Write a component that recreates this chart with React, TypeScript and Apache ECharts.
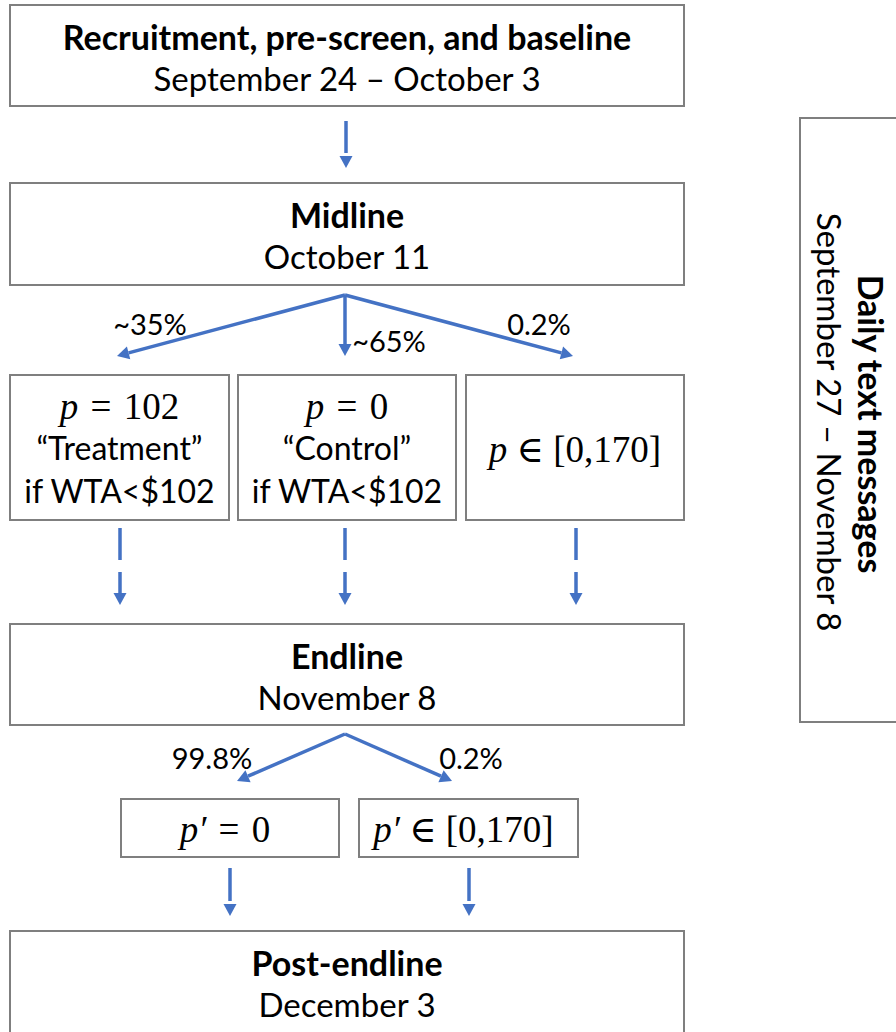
import React, { useEffect, useRef } from "react";
import * as echarts from "echarts";

// ---- content (texts) ----
const stageTitles = ["Recruitment, pre-screen, and baseline", "Midline", "Endline", "Post-endline"];
const stageDates = ["September 24 – October 3", "October 11", "November 8", "December 3"];
const armMath = ["{i|p}\u2004=\u2004102", "{i|p}\u2004=\u20040", "{i|p}\u2005∈\u2005[0,170]"];
const armNames = ["“Treatment”", "“Control”", ""];
const armConditions = ["if WTA<$102", "if WTA<$102", ""];
const midlineShares = ["~35%", "~65%", "0.2%"];
const endlineShares = ["99.8%", "0.2%"];
const postMath = ["{i|p′}\u2004=\u20040", "{i|p′}\u2005∈\u2005[0,170]"];
const sideTitle = "Daily text messages";
const sideDates = "September 27 – November 8";

// ---- layout ----
const W = 896, H = 1032;
const stageBoxes = [
  { x: 10, y: 5, w: 674, h: 101 },
  { x: 10, y: 183, w: 674, h: 102 },
  { x: 10, y: 624, w: 674, h: 101 },
  { x: 10, y: 931, w: 674, h: 120 },
];
const armBoxes = [
  { x: 10, y: 375, w: 219, h: 145 },
  { x: 238, y: 375, w: 218, h: 145 },
  { x: 466, y: 375, w: 218, h: 145 },
];
const postBoxes = [
  { x: 121, y: 799, w: 218, h: 58 },
  { x: 359, y: 799, w: 219, h: 58 },
];
const sideBox = { x: 800, y: 118, w: 120, h: 604 };

const BLUE = "#4472C4";
const GRAY = "#7F7F7F";
const SANS = "Lato, 'Open Sans', sans-serif";
const MATH = "'Liberation Serif', 'DejaVu Serif', serif";

function box(b: any) {
  return {
    type: "rect",
    shape: { x: b.x, y: b.y, width: b.w, height: b.h },
    style: { fill: "#fff", stroke: GRAY, lineWidth: 2 },
  };
}

function text(t: string, x: number, y: number, size: number, bold = false, extra: any = {}) {
  return {
    type: "text",
    x,
    y,
    style: {
      text: t,
      fontSize: size,
      fontFamily: SANS,
      fontWeight: bold ? "bold" : "normal",
      fill: "#000",
      align: "center",
      verticalAlign: "middle",
      textAlign: "center",
      textVerticalAlign: "middle",
      ...extra,
    },
  };
}

function mathText(t: string, x: number, y: number, size: number) {
  return {
    type: "text",
    x,
    y,
    style: {
      text: t,
      fontSize: size,
      fontFamily: MATH,
      fill: "#000",
      align: "center",
      verticalAlign: "middle",
      textAlign: "center",
      textVerticalAlign: "middle",
      rich: {
        i: { fontStyle: "italic", fontSize: size, fontFamily: MATH, fill: "#000" },
      },
    },
  };
}

function arrow(x1: number, y1: number, x2: number, y2: number, dash?: number[], gap = 0) {
  const dx = x2 - x1, dy = y2 - y1;
  const len = Math.sqrt(dx * dx + dy * dy);
  const ux = dx / len, uy = dy / len;
  const L = 12, hw = 6.5;
  const bx = x2 - ux * L, by = y2 - uy * L;
  const ex = x2 - ux * (L + gap), ey = y2 - uy * (L + gap);
  const px = -uy, py = ux;
  return [
    {
      type: "line",
      shape: { x1, y1, x2: ex, y2: ey },
      style: { stroke: BLUE, lineWidth: 3.5, lineDash: dash || null, lineCap: "butt" },
    },
    {
      type: "polygon",
      shape: { points: [[x2, y2], [bx + px * hw, by + py * hw], [bx - px * hw, by - py * hw]] },
      style: { fill: BLUE },
    },
  ];
}

export default function App() {
  const ref = useRef<HTMLDivElement>(null);
  useEffect(() => {
    if (!ref.current) return;
    const chart = echarts.init(ref.current, null, { renderer: "svg" });
    const els: any[] = [];

    // stage boxes
    stageBoxes.forEach((b, i) => {
      els.push(box(b));
      const cx = b.x + b.w / 2;
      els.push(text(stageTitles[i], cx, b.y + 31, 34, true));
      els.push(text(stageDates[i], cx, b.y + 73, 33));
    });

    // arm boxes
    armBoxes.forEach((b, i) => {
      els.push(box(b));
      const cx = b.x + b.w / 2;
      if (armNames[i]) {
        els.push(mathText(armMath[i], cx, b.y + 31, 37));
        els.push(text(armNames[i], cx, b.y + 72, 32));
        els.push(text(armConditions[i], cx, b.y + 115, 32));
      } else {
        els.push(mathText(armMath[i], cx, b.y + 74, 37));
      }
    });

    // post boxes
    postBoxes.forEach((b, i) => {
      els.push(box(b));
      els.push(mathText(postMath[i], b.x + b.w / 2 - 5, b.y + 30, 37));
    });

    // side box
    els.push(box(sideBox));
    els.push({ ...text(sideTitle, 871, 424, 34, true), rotation: -Math.PI / 2 });
    els.push({ ...text(sideDates, 830, 422, 33), rotation: -Math.PI / 2 });

    // arrows
    els.push(...arrow(346, 121, 346, 168, undefined, 3));
    const midTop = [345, 295];
    const midTips = [[117, 356], [345, 356], [573, 356]];
    midTips.forEach((t) => els.push(...arrow(midTop[0], midTop[1], t[0], t[1])));
    [120, 345, 576].forEach((x) => els.push(...arrow(x, 528, x, 605, [32, 12])));
    const endTop = [345, 734];
    const endTips = [[237, 781], [452, 781]];
    endTips.forEach((t) => els.push(...arrow(endTop[0], endTop[1], t[0], t[1])));
    [230, 469].forEach((x) => els.push(...arrow(x, 868, x, 916, undefined, 3)));

    // percentage labels
    const midLabelPos = [[150, 323], [389, 340], [539, 323]];
    midlineShares.forEach((s, i) => els.push(text(s, midLabelPos[i][0], midLabelPos[i][1], 29)));
    const endLabelPos = [[212, 757], [471, 757]];
    endlineShares.forEach((s, i) => els.push(text(s, endLabelPos[i][0], endLabelPos[i][1], 29)));

    chart.setOption({
      animation: false,
      backgroundColor: "#fff",
      graphic: { elements: els },
    });
    return () => chart.dispose();
  }, []);
  return (
    <div
      ref={ref}
      style={{ position: "fixed", left: 0, top: 0, width: W, height: H, background: "#fff" }}
    />
  );
}
